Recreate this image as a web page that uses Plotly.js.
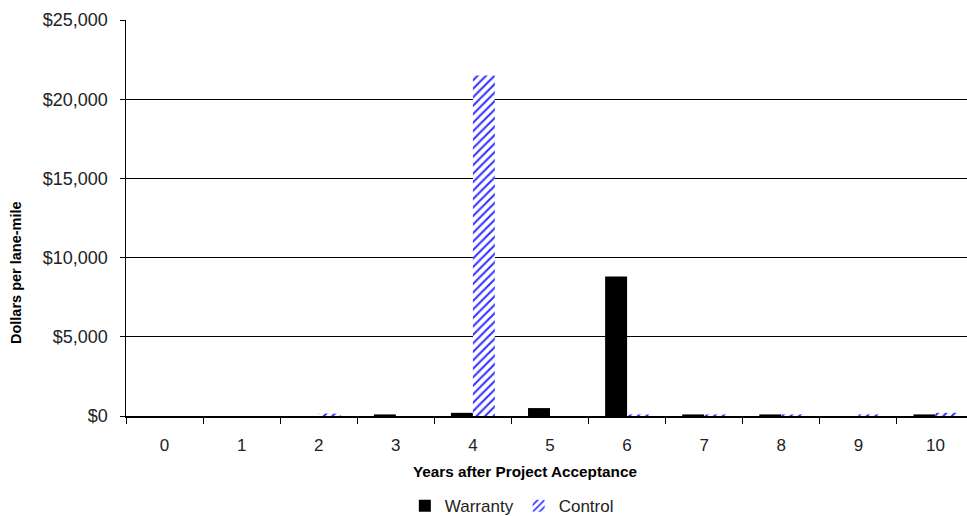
<!DOCTYPE html>
<html>
<head>
<meta charset="utf-8">
<script src="https://cdn.plot.ly/plotly-3.0.1.min.js"></script>
<style>html,body{margin:0;padding:0;background:#fff;overflow:hidden;}</style>
</head>
<body>
<div id="chart" style="width:975px;height:516px;"></div>
<script>
const years = ["0","1","2","3","4","5","6","7","8","9","10"];
const warranty = [0, 0, 0, 100, 200, 500, 8800, 100, 100, 0, 100];
const control = [0, 0, 150, 0, 21500, 0, 100, 100, 100, 100, 200];
const yTicks = [0, 5000, 10000, 15000, 20000, 25000];
const yTickText = yTicks.map(v => "$" + v.toLocaleString("en-US"));
const yTitle = "Dollars per lane-mile";
const xTitle = "Years after Project Acceptance";

const traces = [
  {
    type: "bar", name: "Warranty", x: years, y: warranty,
    marker: {color: "#000000", line: {width: 0}}
  },
  {
    type: "bar", name: "Control", x: years, y: control,
    marker: {color: "#ffffff", line: {width: 0},
      pattern: {shape: "/", fgcolor: "#3333ff", bgcolor: "#ffffff", size: 6, solidity: 0.35}}
  }
];

const layout = {
  width: 975, height: 516,
  margin: {l: 126, r: 1, t: 20, b: 100, autoexpand: false},
  paper_bgcolor: "#ffffff", plot_bgcolor: "#ffffff",
  font: {family: "Liberation Sans, Arial, sans-serif", color: "#222222", size: 17},
  barmode: "group", bargap: 0.43, bargroupgap: 0,
  showlegend: true,
  legend: {orientation: "h", x: 0.455, xanchor: "center", y: -0.228, yanchor: "middle",
    font: {size: 17, color: "#222"}, traceorder: "normal", itemwidth: 30},
  xaxis: {
    type: "category",
    tickson: "boundaries", ticks: "outside", ticklen: 6, tickcolor: "#000",
    showline: true, linecolor: "#000", linewidth: 1.5,
    showgrid: false,
    tickfont: {size: 17},
    ticklabelstandoff: 13,
    automargin: false
  },
  yaxis: {
    range: [0, 25000], tickmode: "array", tickvals: yTicks, ticktext: yTickText,
    ticks: "outside", ticklen: 5, tickcolor: "#000",
    showline: true, linecolor: "#000", linewidth: 1.5,
    showgrid: true, gridcolor: "#000", gridwidth: 1,
    zeroline: false,
    tickfont: {size: 18},
    ticklabelstandoff: 8,
    automargin: false
  },
  annotations: [{
    text: "<b>" + yTitle + "</b>", textangle: -90, showarrow: false,
    xref: "paper", yref: "paper", x: -0.1297, y: 0.361,
    xanchor: "center", yanchor: "middle",
    font: {size: 14.5, color: "#000"}
  }, {
    text: "<b>" + xTitle + "</b>", showarrow: false,
    xref: "paper", yref: "paper", x: 0.4705, y: -0.1414,
    xanchor: "center", yanchor: "middle",
    font: {size: 15.3, color: "#000"}
  }]
};

Plotly.newPlot("chart", traces, layout, {displayModeBar: false, staticPlot: true});
</script>
</body>
</html>
